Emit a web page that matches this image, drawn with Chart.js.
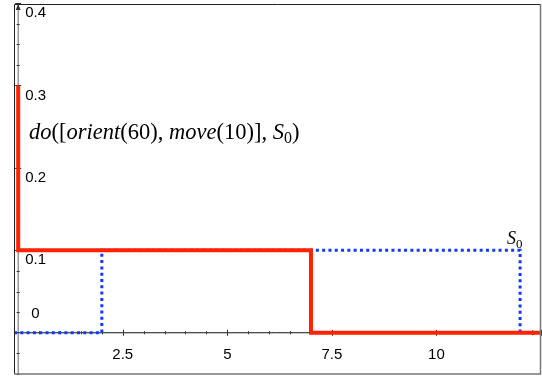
<!DOCTYPE html>
<html>
<head>
<meta charset="utf-8">
<script src="https://cdn.jsdelivr.net/npm/chart.js@4.4.1/dist/chart.umd.min.js"></script>
<style>
  html, body { margin: 0; padding: 0; background: #fff; }
</style>
</head>
<body>
<canvas id="plot" width="542" height="381"></canvas>
<script>
// turtle path after do([orient(60), move(10)], S0)
const pathX = [0, 0, 7, 7, 12.5];
const pathY = [0.3, 0.1, 0.1, 0, 0];
// starting turtle S0
const startX = [-0.1, 2, 2, 12, 12];
const startY = [0, 0, 0.1, 0.1, 0];

const xTickLabels = [2.5, 5, 7.5, 10];
const yTickLabels = [0, 0.1, 0.2, 0.3, 0.4];
const xMinorStep = 0.5;
const yMinorStep = 0.025;

const exprText = [
  ['do', true], ['([', false], ['orient', true], ['(60), ', false],
  ['move', true], ['(10)], ', false], ['S', true], ['0', 'sub'], [')', false]
];
const startLabel = 'S';

function pts(xs, ys) {
  return xs.map((x, i) => ({x: x, y: ys[i]}));
}

// draws the mixed italic / upright text
function drawMath(ctx, parts, x, y, size) {
  ctx.textBaseline = 'alphabetic';
  ctx.textAlign = 'left';
  ctx.fillStyle = '#000';
  for (const [s, it] of parts) {
    if (it === 'sub') {
      ctx.font = Math.round(size * 0.72) + 'px "Liberation Serif"';
      ctx.fillText(s, x, y + size * 0.18);
    } else {
      ctx.font = (it ? 'italic ' : '') + size + 'px "Liberation Serif"';
      ctx.fillText(s, x, y);
    }
    x += ctx.measureText(s).width;
  }
}

const axesPlugin = {
  id: 'tiAxes',
  beforeDatasetsDraw(chart) {
    const ctx = chart.ctx;
    const xs = chart.scales.x, ys = chart.scales.y;
    const a = chart.chartArea;
    const x0 = xs.getPixelForValue(0), y0 = ys.getPixelForValue(0);
    ctx.save();
    // y axis
    ctx.strokeStyle = '#666';
    ctx.lineWidth = 1;
    ctx.beginPath();
    ctx.moveTo(x0, a.bottom);
    ctx.lineTo(x0, a.top + 2);
    ctx.stroke();
    ctx.fillStyle = '#333';
    ctx.beginPath();
    ctx.moveTo(x0, a.top + 1);
    ctx.lineTo(x0 - 2.5, a.top + 7);
    ctx.lineTo(x0 + 2.5, a.top + 7);
    ctx.closePath();
    ctx.fill();
    // x axis
    ctx.strokeStyle = '#111';
    ctx.beginPath();
    ctx.moveTo(a.left, y0);
    ctx.lineTo(a.right - 2, y0);
    ctx.stroke();
    ctx.fillStyle = '#111';
    ctx.beginPath();
    ctx.moveTo(a.right - 3, y0);
    ctx.lineTo(a.right - 9, y0 - 2.5);
    ctx.lineTo(a.right - 9, y0 + 2.5);
    ctx.closePath();
    ctx.fill();

    // minor / major ticks
    ctx.strokeStyle = '#333';
    for (let v = Math.ceil(xs.min / xMinorStep) * xMinorStep; v <= xs.max; v += xMinorStep) {
      if (Math.abs(v) < 1e-9) continue;
      const px = Math.round(xs.getPixelForValue(v)) + 0.5;
      const major = Math.abs(v / 2.5 - Math.round(v / 2.5)) < 1e-9;
      const h = major ? 3 : 1.5;
      ctx.beginPath();
      ctx.moveTo(px, y0 - h);
      ctx.lineTo(px, y0 + h);
      ctx.stroke();
    }
    for (let v = Math.ceil(ys.min / yMinorStep) * yMinorStep; v <= ys.max + 1e-9; v += yMinorStep) {
      if (Math.abs(v) < 1e-9) continue;
      const py = Math.round(ys.getPixelForValue(v)) + 0.5;
      const major = Math.abs(v / 0.1 - Math.round(v / 0.1)) < 1e-9;
      const h = major ? 3 : 1.5;
      ctx.beginPath();
      ctx.moveTo(x0 - h, py);
      ctx.lineTo(x0 + h, py);
      ctx.stroke();
    }

    // tick labels
    ctx.fillStyle = '#000';
    ctx.font = '15px "Liberation Sans"';
    ctx.textBaseline = 'middle';
    ctx.textAlign = 'center';
    for (const v of xTickLabels) {
      ctx.fillText(String(v), xs.getPixelForValue(v), y0 + 22);
    }
    ctx.textAlign = 'left';
    for (const v of yTickLabels) {
      const py = ys.getPixelForValue(v);
      if (v === 0) {
        ctx.fillText('0', x0 + 13, py - 19);
      } else {
        ctx.fillText(String(v), x0 + 7, py + 10);
      }
    }
    ctx.restore();
  },
  afterDraw(chart) {
    const ctx = chart.ctx;
    const a = chart.chartArea;
    const xs = chart.scales.x, ys = chart.scales.y;
    ctx.save();
    // frame
    ctx.lineWidth = 1;
    ctx.strokeStyle = '#222';
    ctx.beginPath();
    ctx.moveTo(a.left + 0.5, a.bottom);
    ctx.lineTo(a.left + 0.5, a.top + 1.5);
    ctx.lineTo(a.right, a.top + 1.5);
    ctx.stroke();
    ctx.strokeStyle = '#777';
    ctx.lineWidth = 1.5;
    ctx.beginPath();
    ctx.moveTo(a.left, a.bottom);
    ctx.lineTo(a.right - 0.5, a.bottom);
    ctx.lineTo(a.right - 0.5, a.top + 1);
    ctx.stroke();

    drawMath(ctx, exprText, a.left + 15, 139, 22.5);

    // S0 label at the start turtle
    const lx = xs.getPixelForValue(startX[3]) - 13;
    const ly = ys.getPixelForValue(startY[3]) - 6;
    drawMath(ctx, [[startLabel, true], ['0', 'sub']], lx, ly, 18);
    ctx.restore();
  }
};

new Chart(document.getElementById('plot').getContext('2d'), {
  type: 'scatter',
  data: {
    datasets: [{
      data: pts(pathX, pathY),
      showLine: true,
      borderColor: '#ff2200',
      borderWidth: 4,
      pointRadius: 0,
      order: 0
    }, {
      data: pts(startX, startY),
      showLine: true,
      borderColor: '#1238ff',
      borderWidth: 3,
      borderDash: [3, 3.3],
      pointRadius: 0,
      order: 1
    }]
  },
  options: {
    responsive: false,
    animation: false,
    devicePixelRatio: 1,
    layout: { padding: { left: 14, top: 3, right: 1, bottom: 7 } },
    plugins: { legend: { display: false }, tooltip: { enabled: false } },
    scales: {
      x: { type: 'linear', display: false, min: -0.1, max: 12.5 },
      y: { type: 'linear', display: false, min: -0.05, max: 0.4 }
    }
  },
  plugins: [axesPlugin]
});
</script>
</body>
</html>
